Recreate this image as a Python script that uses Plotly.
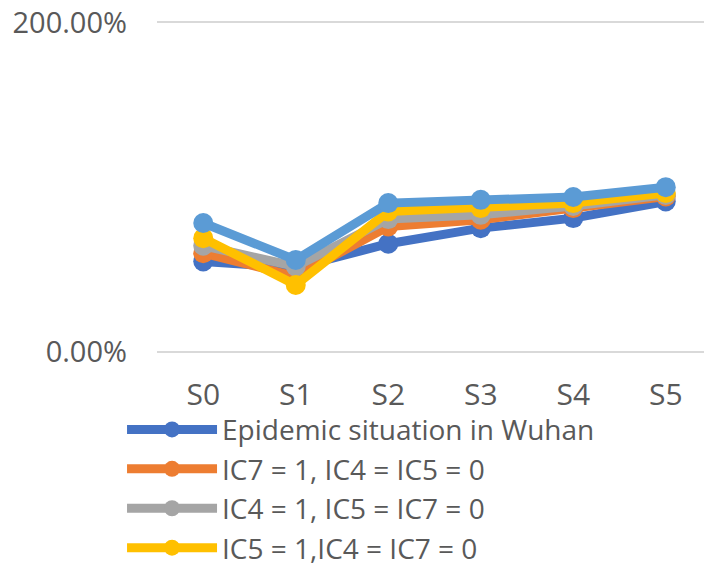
import plotly.graph_objects as go

STAGES = ["S0", "S1", "S2", "S3", "S4", "S5"]

# values as fractions (axis is formatted as percent)
wuhan = [0.547, 0.509, 0.655, 0.750, 0.811, 0.912]
ic7 = [0.598, 0.456, 0.760, 0.801, 0.872, 0.942]
ic4 = [0.643, 0.517, 0.805, 0.831, 0.885, 0.952]
ic5 = [0.689, 0.405, 0.851, 0.872, 0.902, 0.963]
extra = [0.781, 0.557, 0.902, 0.922, 0.939, 0.999]

NAMES = ["Epidemic situation in Wuhan", "IC7 = 1, IC4 = IC5 = 0",
         "IC4 = 1, IC5 = IC7 = 0", "IC5 = 1,IC4 = IC7 = 0", ""]
COLORS = ["#4472C4", "#ED7D31", "#A5A5A5", "#FFC000", "#5B9BD5"]

fig = go.Figure()
for i, vals in enumerate([wuhan, ic7, ic4, ic5, extra]):
    fig.add_trace(go.Scatter(
        x=STAGES, y=vals, name=NAMES[i], mode="lines+markers",
        line=dict(color=COLORS[i], width=9),
        marker=dict(color=COLORS[i], size=20),
        showlegend=(i < 4),
    ))

font = "Open Sans, Lato, sans-serif"
# the page body adds an 8px offset, margins are set to make up for it
fig.update_layout(
    width=712, height=567,
    margin=dict(l=149, r=8, t=12, b=221, autoexpand=False),
    paper_bgcolor="white", plot_bgcolor="white",
    font=dict(family=font, size=30, color="#595959"),
    showlegend=True,
    legend=dict(x=-0.063, y=-0.152, xanchor="left", yanchor="top",
                font=dict(size=28, color="#595959"),
                tracegroupgap=0, itemwidth=90, bgcolor="rgba(0,0,0,0)"),
)
fig.update_xaxes(range=[-0.5, 5.5], showgrid=False, showline=False, zeroline=False,
                 ticks="", tickfont=dict(size=30), ticklabelstandoff=20,
                 automargin=False)
fig.update_yaxes(range=[-0.015, 2.015], tickvals=[0, 2], tickformat=".2%",
                 showgrid=True, gridcolor="#D9D9D9", gridwidth=1.5,
                 zeroline=False, showline=False, ticks="",
                 tickfont=dict(size=29), ticklabelstandoff=29,
                 ticklabeloverflow="allow", automargin=False)

fig.write_html("out.html")
